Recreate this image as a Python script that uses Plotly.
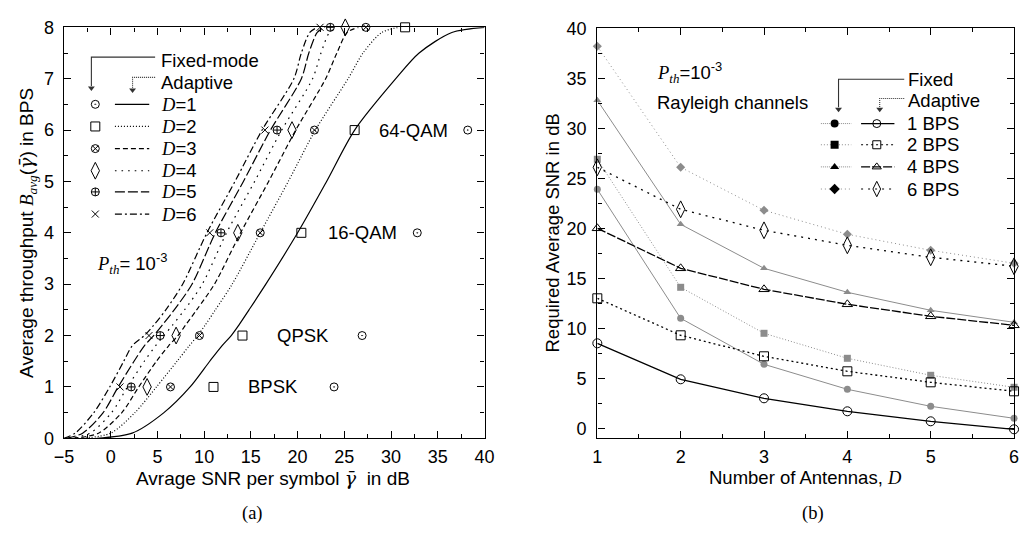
import plotly.graph_objects as go

# ---------------- panel (a): average throughput vs. average SNR ----------------
# throughput levels (BPS) at which the adaptive curves were sampled
rate_levels = [0, 0.1, 0.5, 1, 1.5, 1.8, 2, 2.2, 2.5, 3, 4, 5, 6, 7, 7.5, 7.9, 8]
# SNR (dB) reached by the adaptive scheme at each level, one array per D
snr_d1 = [-1.5, 2.3, 5.7, 8.5, 10.6, 11.9, 12.9, 13.7, 14.8, 16.6, 20.0, 23.1, 26.1, 30.5, 33.0, 36.5, 40.0]
snr_d2 = [-3.0, 0.0, 2.6, 4.9, 7.1, 8.4, 9.3, 10.1, 11.2, 13.0, 16.0, 19.0, 21.9, 25.4, 27.0, 29.0, 30.8]
snr_d3 = [-4.0, -1.3, 1.2, 3.0, 4.9, 6.2, 7.2, 8.0, 9.2, 11.1, 13.9, 16.9, 19.8, 23.0, 24.2, 25.3, 26.5]
snr_d4 = [-4.5, -2.2, 0.1, 1.8, 3.6, 4.8, 5.7, 6.6, 7.9, 9.8, 12.4, 15.4, 18.3, 21.6, 22.5, 23.4, 24.2]
snr_d5 = [-4.8, -3.0, -0.8, 0.8, 2.5, 3.6, 4.6, 5.5, 6.8, 8.7, 11.2, 14.2, 17.1, 20.4, 21.2, 22.1, 22.9]
snr_d6 = [-5.0, -3.8, -1.8, -0.1, 1.4, 2.3, 3.6, 4.6, 5.9, 7.7, 10.3, 13.3, 16.2, 19.6, 20.4, 21.3, 22.1]

# fixed-mode required SNR (dB) per constellation, indexed by D = 1..6
fixed_rates = [1, 2, 4, 6, 8]
fixed_bpsk = [23.9, 11.0, 6.4, 3.9, 2.2, 1.0]
fixed_qpsk = [26.9, 14.1, 9.5, 7.0, 5.3, 4.1]
fixed_16qam = [32.8, 20.4, 16.0, 13.6, 11.8, 10.6]
fixed_64qam = [38.2, 26.1, 21.8, 19.4, 17.8, 16.5]
fixed_256qam = [None, 31.5, 27.3, 25.1, 23.5, 22.4]

mode_labels = ["BPSK", "QPSK", "16-QAM", "64-QAM"]
mode_label_snr = [17.4, 20.6, 26.9, 32.4]
mode_label_rate = [1, 2, 4, 6]

# ---------------- panel (b): required SNR vs. number of antennas ----------------
antennas = [1, 2, 3, 4, 5, 6]
adapt_1bps = [8.5, 4.9, 3.0, 1.7, 0.7, -0.1]
adapt_2bps = [13.0, 9.3, 7.2, 5.7, 4.6, 3.7]
adapt_4bps = [20.0, 16.0, 13.9, 12.4, 11.2, 10.3]
adapt_6bps = [26.1, 21.9, 19.8, 18.3, 17.1, 16.2]
bps_labels = ["1 BPS", "2 BPS", "4 BPS", "6 BPS"]

SANS = "Liberation Sans, Arial, sans-serif"
SERIF = "Liberation Serif, Times New Roman, serif"
FS = 18.5      # text size
FT = 18        # tick label size
GRAY = "#8c8c8c"


def it(s, fam=SERIF):
    return f'<span style="font-family:{fam}"><i>{s}</i></span>'


GAMMA = it("γ̄", "DejaVu Serif")

fig = go.Figure()

# ---- (a) adaptive curves ----
curve_dash = ["solid", "1px,2px", "5px,3px", "1.6px,5px", "10px,3px", "7px,3px,2px,3px"]
curve_snr = [snr_d1, snr_d2, snr_d3, snr_d4, snr_d5, snr_d6]
for d, (xs, dash) in enumerate(zip(curve_snr, curve_dash), start=1):
    fig.add_trace(go.Scatter(
        x=xs, y=rate_levels, mode="lines", xaxis="x", yaxis="y",
        line=dict(color="black", width=1.2, dash=dash, shape="spline", smoothing=0.8),
        showlegend=False, hoverinfo="skip"))

# ---- (a) fixed-mode markers ----
fixed_table = [fixed_bpsk, fixed_qpsk, fixed_16qam, fixed_64qam, fixed_256qam]
a_symbols = ["circle-open-dot", "square-open", "circle-x-open", "diamond-tall-open",
             "circle-cross-open", "x-thin-open"]
a_sizes = [8, 9, 8, 12, 8, 7]
for i in range(6):
    xs = [row[i] for row in fixed_table]
    fig.add_trace(go.Scatter(
        x=xs, y=fixed_rates, mode="markers", xaxis="x", yaxis="y", cliponaxis=False,
        marker=dict(symbol=a_symbols[i], size=a_sizes[i], color="black",
                    line=dict(color="black", width=1)),
        showlegend=False, hoverinfo="skip"))

# ---- (b) curves ----
fixed_b = [fixed_bpsk, fixed_qpsk, fixed_16qam, fixed_64qam]
adapt_b = [adapt_1bps, adapt_2bps, adapt_4bps, adapt_6bps]
fixed_dash = ["solid", "1px,2px", "solid", "1px,3px"]
adapt_dash = ["solid", "2px,3px", "9px,2px", "2px,5px"]
filled_sym = ["circle", "square", "triangle-up", "diamond"]
open_sym = ["circle-open", "square-open", "triangle-up-open", "diamond-tall-open"]
open_size = [9, 9, 9, 12]
for k in range(4):
    fig.add_trace(go.Scatter(
        x=antennas, y=fixed_b[k], mode="lines+markers", xaxis="x2", yaxis="y2", cliponaxis=False,
        line=dict(color=GRAY, width=1, dash=fixed_dash[k]),
        marker=dict(symbol=filled_sym[k], size=7, color=GRAY),
        showlegend=False, hoverinfo="skip"))
    fig.add_trace(go.Scatter(
        x=antennas, y=adapt_b[k], mode="lines+markers", xaxis="x2", yaxis="y2", cliponaxis=False,
        line=dict(color="black", width=1.3, dash=adapt_dash[k]),
        marker=dict(symbol=open_sym[k], size=open_size[k], color="black",
                    line=dict(color="black", width=1)),
        showlegend=False, hoverinfo="skip"))

# ---------------- hand-built legends on a pixel overlay ----------------
ov = dict(xaxis="x3", yaxis="y3", showlegend=False, hoverinfo="skip", cliponaxis=False)
ann = []


def label(x, y, text, size=FS, xanchor="left", ref="3", **kw):
    ann.append(dict(x=x, y=y, xref="x" + ref, yref="y" + ref, text=text, showarrow=False,
                    xanchor=xanchor, yanchor="middle", font=dict(family=SANS, size=size, color="black"), **kw))


def bracket(xs, ys, dash, color="black"):
    fig.add_trace(go.Scatter(x=xs, y=ys, mode="lines", line=dict(color=color, width=1.1, dash=dash), **ov))
    fig.add_trace(go.Scatter(x=[xs[-1]], y=[ys[-1] + 2], mode="markers",
                             marker=dict(symbol="triangle-down", size=6, color=color), **ov))


# legend of panel (a)
rows_a = [98, 121, 144, 167, 189, 212]
bracket([148, 83, 83], [49, 49, 79], "solid", "#333")
bracket([148, 125, 125], [70, 70, 81], "1px,1px", "#333")
label(152, 52, "Fixed-mode")
label(152, 75, "Adaptive")
for i, yy in enumerate(rows_a):
    fig.add_trace(go.Scatter(x=[87], y=[yy], mode="markers",
                             marker=dict(symbol=a_symbols[i], size=a_sizes[i], color="black",
                                         line=dict(color="black", width=1)), **ov))
    fig.add_trace(go.Scatter(x=[107, 142], y=[yy, yy], mode="lines",
                             line=dict(color="black", width=1.2, dash=curve_dash[i]), **ov))
    label(152, yy, f"{it('D')}=" + str(i + 1))

# legend of panel (b)
rows_b = [118, 140, 163, 186]
bracket([912, 845, 845], [72, 72, 101], "solid", "#333")
bracket([912, 887, 887], [92, 92, 101], "1px,1px", "#333")
label(914, 72, "Fixed")
label(914, 94, "Adaptive")
for k, yy in enumerate(rows_b):
    fig.add_trace(go.Scatter(x=[827, 858], y=[yy, yy], mode="lines",
                             line=dict(color=GRAY, width=1, dash=fixed_dash[k] if k % 2 else "1px,1px"), **ov))
    fig.add_trace(go.Scatter(x=[841], y=[yy], mode="markers",
                             marker=dict(symbol=filled_sym[k], size=8, color="black"), **ov))
    fig.add_trace(go.Scatter(x=[868, 902], y=[yy, yy], mode="lines",
                             line=dict(color="black", width=1.2, dash=adapt_dash[k]), **ov))
    fig.add_trace(go.Scatter(x=[884], y=[yy], mode="markers",
                             marker=dict(symbol=open_sym[k], size=open_size[k] - 1, color="black",
                                         line=dict(color="black", width=1)), **ov))
    label(913, yy, bps_labels[k])

# text inside the panels
pth = f"{it('P')}<sub>{it('th')}</sub>"
label(87, 263, pth + "= 10<sup>-3</sup>")
label(658, 65, pth + "=10<sup>-3</sup>")
label(658, 96, "Rayleigh channels")
for t, xv, yv in zip(mode_labels, mode_label_snr, mode_label_rate):
    label(xv, yv, t, xanchor="center", ref="")

# axis titles and panel captions
label(268, 486, f"Avrage SNR per symbol {GAMMA}  in dB", size=19, xanchor="center")
label(811, 486, f"Number of Antennas, {it('D')}", xanchor="center")
label(18, 232, f"Average throughput {it('B')}<sub>{it('avg')}</sub>({GAMMA}) in BPS",
      size=19, xanchor="center", textangle=-90)
label(553, 232, "Required Average SNR in dB", xanchor="center", textangle=-90)
ann.append(dict(x=247, y=523, xref="x3", yref="y3", text="(a)", showarrow=False,
                font=dict(family=SERIF, size=FS, color="black")))
ann.append(dict(x=819, y=523, xref="x3", yref="y3", text="(b)", showarrow=False,
                font=dict(family=SERIF, size=FS, color="black")))

W, H = 1026, 533
axis_common = dict(showgrid=False, zeroline=False, showline=True, linecolor="black", linewidth=1.4,
                   mirror="ticks", ticks="inside", ticklen=7, tickwidth=1, tickcolor="black",
                   tickfont=dict(family=SANS, size=FT, color="black"))

fig.update_layout(
    width=W, height=H, autosize=False,
    margin=dict(l=0, r=0, t=0, b=0),
    paper_bgcolor="white", plot_bgcolor="rgba(0,0,0,0)",
    xaxis=dict(domain=[55 / W, 484 / W], range=[-5, 40], dtick=5, tick0=0, anchor="y",
               minor=dict(dtick=2.5, ticks="inside", ticklen=4, tickcolor="black"),
               ticklabelstandoff=2, **axis_common),
    yaxis=dict(domain=[1 - 445 / H, 1 - 18 / H], range=[0, 8], dtick=1, anchor="x",
               minor=dict(dtick=0.5, ticks="inside", ticklen=4, tickcolor="black"),
               ticklabelstandoff=5, **axis_common),
    xaxis2=dict(domain=[599 / W, 1024 / W], range=[1, 6], dtick=1, anchor="y2",
                minor=dict(dtick=0.5, ticks="inside", ticklen=4, tickcolor="black"),
                ticklabelstandoff=2, **axis_common),
    yaxis2=dict(domain=[1 - 445 / H, 1 - 19 / H], range=[-1, 40], dtick=5, tick0=0, anchor="x2",
                minor=dict(dtick=2.5, ticks="inside", ticklen=4, tickcolor="black"),
                ticklabelstandoff=6, **axis_common),
    # overlay axis measured in window pixels (origin at the top-left corner)
    xaxis3=dict(domain=[0, 1], range=[0, W], visible=False, anchor="y3", fixedrange=True),
    yaxis3=dict(domain=[0, 1], range=[H, 0], visible=False, anchor="x3", fixedrange=True),
    annotations=ann,
    showlegend=False,
)

fig.write_html("out.html")
